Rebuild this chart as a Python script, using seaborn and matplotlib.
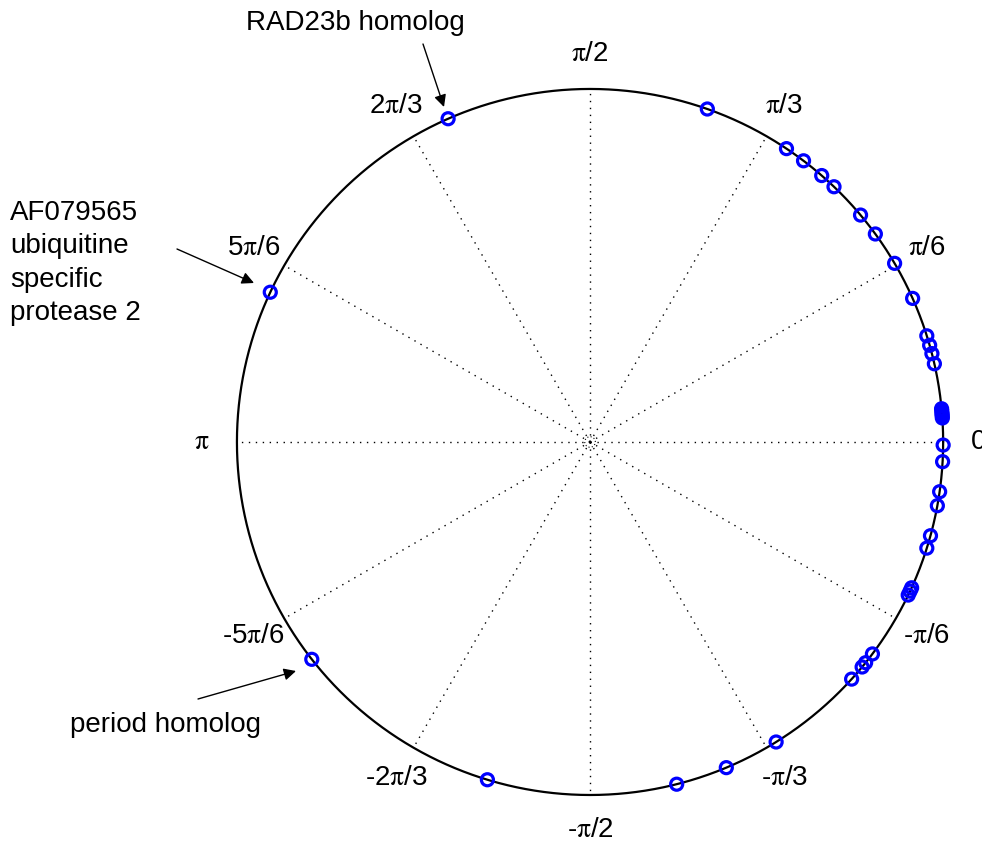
import numpy as np
import pandas as pd
import matplotlib
matplotlib.use("Agg")
import matplotlib.pyplot as plt
import seaborn as sns

# ---- data: phase angles (degrees) of genes on the unit circle ----
theta_deg = [113.7, 70.6, 56.2, 52.8, 49.0, 46.3, 40.0, 36.1, 30.4, 24.0,
             17.5, 15.9, 14.5, 12.8, 5.4, 5.0, 4.6, 4.3, 3.9, -0.5, -3.2,
             -8.1, -10.4, -15.4, -17.5, -24.4, -25.0, -25.7, -36.9, -38.7,
             -39.6, -42.2, -58.2, -67.3, -75.8, -106.9, -142.0, 154.9]
radius = [1.0] * len(theta_deg)

tick_angles_deg = [0, 30, 60, 90, 120, 150, 180, -150, -120, -90, -60, -30]
PI = r"$\mathrm{\pi}$"
tick_labels = ["0", PI + "/6", PI + "/3", PI + "/2", "2" + PI + "/3", "5" + PI + "/6",
               PI, "-5" + PI + "/6", "-2" + PI + "/3", "-" + PI + "/2", "-" + PI + "/3",
               "-" + PI + "/6"]

annot_texts = ["RAD23b homolog",
               "AF079565\nubiquitine\nspecific\nprotease 2",
               "period homolog"]

sns.set_theme(style="white")
plt.rcParams["font.family"] = ["Liberation Sans", "DejaVu Sans"]
plt.rcParams["mathtext.fontset"] = "stix"
plt.rcParams["text.color"] = "black"

W, H = 982, 849
fig = plt.figure(figsize=(W / 100, H / 100), dpi=100)
ax = fig.add_axes([0, 0, 1, 1])
ax.set_xlim(-1.671, 1.110)
ax.set_ylim(-1.153, 1.252)
ax.axis("off")

# outer circle
t = np.linspace(0, 2 * np.pi, 721)
ax.plot(np.cos(t), np.sin(t), color="black", lw=1.6, zorder=2)

# dotted spokes
for a in range(0, 360, 30):
    r = np.deg2rad(a)
    ax.plot([0, np.cos(r)], [0, np.sin(r)], color="black", lw=1.0,
            linestyle=(0, (1, 4)), zorder=1)
# tiny central ring
ax.plot(0.015 * np.cos(t), 0.015 * np.sin(t), color="black", lw=0.8,
        linestyle=(0, (1, 2)), zorder=1)

# points
th = np.deg2rad(theta_deg)
df = pd.DataFrame({"x": np.array(radius) * np.cos(th),
                   "y": np.array(radius) * np.sin(th)})
sns.scatterplot(data=df, x="x", y="y", ax=ax, marker="o", s=75,
                facecolor="none", edgecolor="#0000ff", linewidth=2.3, zorder=3,
                legend=False)
ax.collections[-1].set_facecolor("none")
ax.collections[-1].set_edgecolor("#0000ff")

# angle labels
for a, lab in zip(tick_angles_deg, tick_labels):
    r = np.deg2rad(a)
    ax.text(1.1 * np.cos(r), 1.1 * np.sin(r), lab, ha="center", va="center",
            fontsize=20, color="black")

ax.set_xlim(-1.671, 1.110)
ax.set_ylim(-1.153, 1.252)


def fp(px, py):
    return (px / W, 1 - py / H)


# annotations
fig.text(*fp(355, 23), annot_texts[0], ha="center", va="center", fontsize=20,
         color="black")
fig.text(*fp(10, 263), annot_texts[1], ha="left", va="center", fontsize=20,
         linespacing=1.38, color="black")
fig.text(*fp(166, 725), annot_texts[2], ha="center", va="center", fontsize=20,
         color="black")

arrows = [((423, 44), (444, 107)), ((177, 249), (254, 283)), ((198, 699), (296, 671))]
for start, tip in arrows:
    ax.annotate("", xy=fp(*tip), xytext=fp(*start), xycoords="figure fraction",
                textcoords="figure fraction",
                arrowprops=dict(arrowstyle="-|>", color="black", lw=1.0,
                                mutation_scale=18, shrinkA=0, shrinkB=0))

fig.savefig("out.png", dpi=100, facecolor="white")
